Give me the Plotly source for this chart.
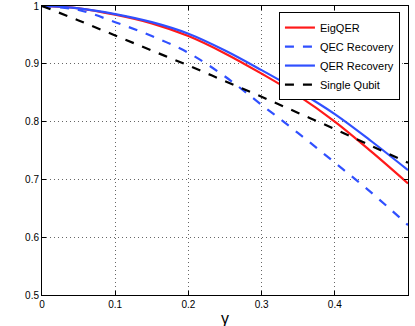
import plotly.graph_objects as go

# damping parameter gamma
gamma = [0.0, 0.05, 0.1, 0.15, 0.2, 0.25, 0.3, 0.35, 0.4, 0.45, 0.5]

# fidelities
eig_qer = [1.0, 0.996, 0.985, 0.970, 0.948, 0.918, 0.883, 0.845, 0.800, 0.748, 0.693]
qec_rec = [1.0, 0.993, 0.972, 0.948, 0.919, 0.878, 0.829, 0.780, 0.729, 0.677, 0.621]
qer_rec = [1.0, 0.996, 0.986, 0.972, 0.952, 0.923, 0.889, 0.853, 0.813, 0.766, 0.716]
single_qubit = [1.0, 0.975, 0.949, 0.923, 0.897, 0.870, 0.843, 0.815, 0.787, 0.758, 0.729]

x_ticks = [0, 0.1, 0.2, 0.3, 0.4, 0.5]
x_labels = ['0', '0.1', '0.2', '0.3', '0.4', '0.5']
y_ticks = [0.5, 0.6, 0.7, 0.8, 0.9, 1.0]
y_labels = ['0.5', '0.6', '0.7', '0.8', '0.9', '1']

red = '#ff1a1a'
blue = '#3050ff'

fig = go.Figure()
fig.add_trace(go.Scatter(x=gamma, y=eig_qer, name='EigQER', mode='lines',
                         line=dict(color=red, width=2.2, shape='spline')))
fig.add_trace(go.Scatter(x=gamma, y=qec_rec, name='QEC Recovery', mode='lines',
                         line=dict(color=blue, width=2.2, dash='dash', shape='spline')))
fig.add_trace(go.Scatter(x=gamma, y=qer_rec, name='QER Recovery', mode='lines',
                         line=dict(color=blue, width=2.2, shape='spline')))
fig.add_trace(go.Scatter(x=gamma, y=single_qubit, name='Single Qubit', mode='lines',
                         line=dict(color='black', width=2.2, dash='dash', shape='spline')))

axis_common = dict(
    showline=True, linecolor='black', linewidth=1, mirror='ticks',
    ticks='inside', ticklen=4, tickcolor='black',
    showgrid=True, gridcolor='rgba(0,0,0,0.6)', gridwidth=1, griddash='1px,3px',
    zeroline=False, tickfont=dict(size=10, color='black'), automargin=False,
)

fig.update_layout(
    width=415, height=326,
    margin=dict(l=42, r=7, t=6, b=31),
    paper_bgcolor='white', plot_bgcolor='white',
    font=dict(family='Liberation Sans, Arial, sans-serif', color='black'),
    xaxis=dict(range=[0, 0.5], tickvals=x_ticks, ticktext=x_labels, **axis_common),
    yaxis=dict(range=[0.5, 1.0], tickvals=y_ticks, ticktext=y_labels, **axis_common),
    legend=dict(x=0.978, y=0.979, xanchor='right', yanchor='top',
                bgcolor='white', bordercolor='black', borderwidth=1,
                font=dict(size=11), tracegroupgap=0),
    showlegend=True,
)

# axis label, placed by hand so it stays inside the small canvas
fig.add_annotation(text='γ', xref='paper', yref='paper', x=0.5, y=0,
                   xanchor='center', yanchor='top', yshift=-13,
                   showarrow=False, font=dict(size=16))

# drop the default page margin so the figure sits at the window corner
fig.write_html("out.html", config={'displayModeBar': False},
               post_script="document.body.style.margin = '0px';")
